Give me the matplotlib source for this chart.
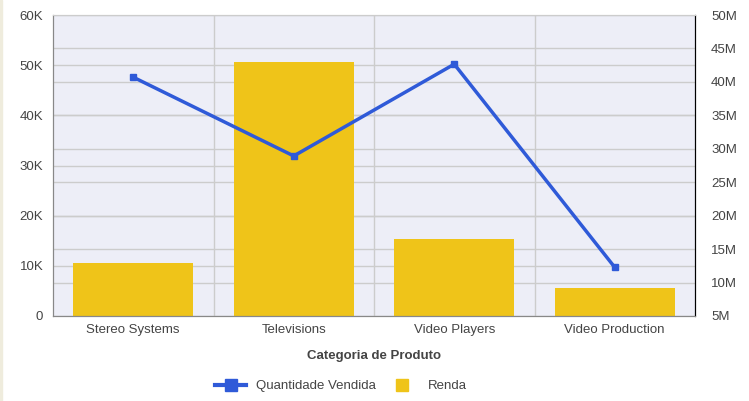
#!/usr/bin/env python3
import matplotlib
matplotlib.use("Agg")
import matplotlib.pyplot as plt
from matplotlib.lines import Line2D
from matplotlib.patches import Rectangle
from matplotlib.ticker import FuncFormatter

# data
categories = ["Stereo Systems", "Televisions", "Video Players", "Video Production"]
quantidade = [47600, 31900, 50200, 9700]          # left axis
renda = [12.95e6, 42.95e6, 16.5e6, 9.2e6]          # right axis
q_ticks = [0, 10000, 20000, 30000, 40000, 50000, 60000]
r_ticks = [5e6, 10e6, 15e6, 20e6, 25e6, 30e6, 35e6, 40e6, 45e6, 50e6]

BAR_COLOR = "#EFC419"
LINE_COLOR = "#2F5AD8"
BG_COLOR = "#EDEEF7"
GRID_COLOR = "#CCCCCC"
TEXT_COLOR = "#444444"


def fmt_k(value, pos):
    if value == 0:
        return "0"
    return f"{value / 1000:.0f}K"


def fmt_m(value, pos):
    return f"{value / 1e6:.0f}M"


def main():
    plt.rcParams["font.family"] = ["Liberation Sans", "DejaVu Sans"]
    plt.rcParams["font.size"] = 9.5

    fig = plt.figure(figsize=(7.49, 4.01), dpi=100)
    # thin beige strip on the left edge
    fig.patches.append(Rectangle((0, 0), 2 / 749, 1, transform=fig.transFigure,
                                 color="#EFECDD", zorder=0))

    ax = fig.add_axes([53 / 749, 1 - 316 / 401, 642 / 749, 301 / 401])
    ax_q = ax.twinx()

    x = list(range(len(categories)))

    # bars on the revenue (right) axis
    ax.set_facecolor(BG_COLOR)
    ax.bar(x, renda, width=0.75, color=BAR_COLOR, zorder=2)
    ax.set_ylim(r_ticks[0], r_ticks[-1])
    ax.set_yticks(r_ticks)
    ax.yaxis.set_major_formatter(FuncFormatter(fmt_m))
    ax.yaxis.tick_right()
    ax.set_xlim(-0.5, len(categories) - 0.5)
    ax.set_xticks(x)
    ax.set_xticklabels(categories, color=TEXT_COLOR)
    ax.set_xticks([i + 0.5 for i in x[:-1]], minor=True)
    ax.tick_params(axis="x", which="both", length=0, pad=6)
    ax.tick_params(axis="y", length=0, pad=11.5, labelcolor=TEXT_COLOR)
    ax.grid(True, axis="y", color=GRID_COLOR, linewidth=1, zorder=0.5)
    ax.grid(True, axis="x", which="minor", color=GRID_COLOR, linewidth=1,
            zorder=0.5)
    ax.set_axisbelow(True)

    # left-axis gridlines mapped into the bar axes so they stay behind bars
    q0, q1 = q_ticks[0], q_ticks[-1]
    r0, r1 = r_ticks[0], r_ticks[-1]
    for t in q_ticks[1:-1]:
        ax.axhline(r0 + (t - q0) / (q1 - q0) * (r1 - r0), color=GRID_COLOR,
                   linewidth=1, zorder=0.5)

    ax.set_xlabel("Categoria de Produto", fontweight="bold", color=TEXT_COLOR,
                  labelpad=10)

    # line on the quantity (left) axis
    ax_q.plot(x, quantidade, color=LINE_COLOR, linewidth=2.5, marker="s",
              markersize=5, zorder=3)
    ax_q.set_ylim(q0, q1)
    ax_q.set_yticks(q_ticks)
    ax_q.yaxis.set_major_formatter(FuncFormatter(fmt_k))
    ax_q.yaxis.tick_left()
    ax_q.tick_params(axis="y", length=0, pad=7, labelcolor=TEXT_COLOR)

    for a in (ax, ax_q):
        a.spines["left"].set_color("#888888")
        a.spines["bottom"].set_color("#888888")
        a.spines["top"].set_color(GRID_COLOR)
        a.spines["right"].set_color("#000000")

    handles = [
        Line2D([0], [0], color=LINE_COLOR, linewidth=3, marker="s",
               markersize=8),
        Line2D([0], [0], color=BAR_COLOR, linestyle="none", marker="s",
               markersize=9),
    ]
    fig.legend(handles, ["Quantidade Vendida", "Renda"], loc="center",
               bbox_to_anchor=(341 / 749, 1 - 386 / 401), ncol=2,
               frameon=False, handlelength=2.3, columnspacing=0.8,
               labelcolor=TEXT_COLOR)

    fig.savefig("out.png", dpi=100)


if __name__ == "__main__":
    main()
